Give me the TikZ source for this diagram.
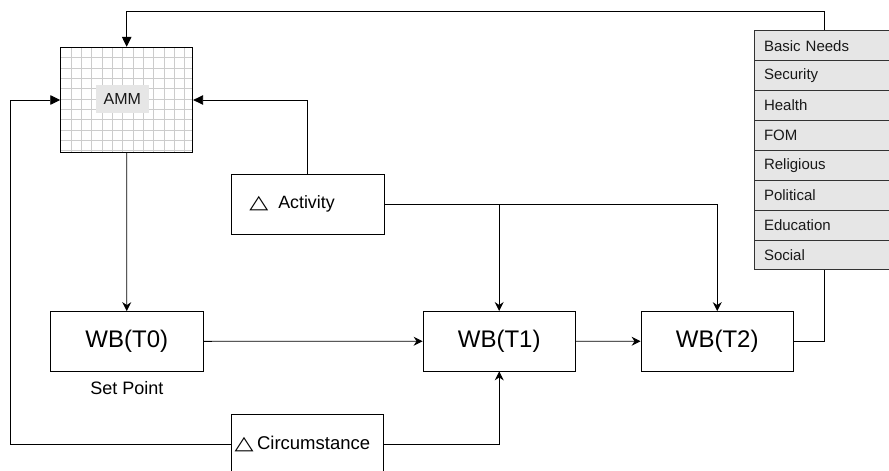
\documentclass[tikz,border=0pt]{standalone}
\usepackage{fontspec}
\usepackage{graphicx}
\setmainfont{Liberation Sans}
\newfontfamily\symfont{DejaVu Sans}
\usetikzlibrary{arrows.meta}

\definecolor{gridgray}{HTML}{CCCCCC}
\definecolor{cellgray}{HTML}{E6E6E6}
\definecolor{edgegray}{HTML}{333333}

% wide, flat delta sign
\newcommand{\deltasign}{{\symfont\fontsize{19}{21}\selectfont\scalebox{1.3}[1.0]{△}}}

\begin{document}
\begin{tikzpicture}[x=1pt,y=-1pt,
  box/.style={draw=black, line width=0.9pt, fill=white, minimum width=152.3pt,
    minimum height=59.5pt, inner sep=0pt},
  wbbox/.style={box, font=\fontsize{24}{28}\selectfont},
  cell/.style={draw=edgegray, line width=0.9pt, fill=cellgray, minimum width=140pt,
    minimum height=29.9pt, inner sep=0pt, text width=120pt, align=left,
    font=\fontsize{15}{18}\selectfont, text=black!90},
  link/.style={draw=black, line width=0.9pt},
  arr/.style={link, -{Stealth[length=9pt, width=9pt, inset=3pt]}},
  arrb/.style={link, -{Triangle[length=10pt, width=9.5pt]}}]

\useasboundingbox (0,0) rectangle (889,471);

% grid fill of the AMM block
\begin{scope}[shift={(60.7,47.3)}]
  \draw[gridgray, line width=0.8pt] (0,0) grid[xstep=10.33pt, ystep=10.33pt] (132,105.4);
\end{scope}
\node[draw=black, line width=0.9pt, minimum width=132pt, minimum height=105.4pt,
  inner sep=0pt] (amm) at (126.7,100) {};
\node[fill=cellgray, minimum width=52.7pt, minimum height=28pt, inner sep=0pt,
  font=\fontsize{16}{19}\selectfont, text=black!90] (ammlabel) at (122.3,99) {AMM};

% activity and circumstance changes
\node[box, font=\fontsize{17.8}{21}\selectfont, text width=117pt, align=left,
  inner xsep=17.6pt] (act) at (307.8,204.2)
  {\deltasign\hspace{10pt}Activity};
\node[box, font=\fontsize{18.5}{22}\selectfont, text width=145.7pt, align=left,
  inner xsep=3.3pt] (circ) at (307.4,444.3)
  {\deltasign\hspace{3.5pt}Circumstance};

% well-being states
\node[wbbox] (wb0) at (126.8,341.3) {WB(T0)};
\node[wbbox] (wb1) at (499.2,341.2) {WB(T1)};
\node[wbbox] (wb2) at (717.2,341.3) {WB(T2)};
\node[font=\fontsize{18}{21}\selectfont] (setpoint) at (126.8,388) {Set Point};

% life domains
\foreach \t [count=\i] in {Basic Needs, Security, Health, FOM, Religious, Political, Education, Social}
  \node[cell] (r\i) at (824,{30.7+29.9*(\i-0.5)}) {\t};

% connectors
\draw[arrb] (r1.north) -- ++(0,-18.4) -| (amm.north);
\draw[link] (wb2.east) -| (r8.south);
\draw[arrb] (act.north) |- (amm.east);
\draw[arr] (act.east) -| (wb2.north);
\draw[arr] (act.east -| wb1.north) -- (wb1.north);
\draw[arr] (amm.south) -- (wb0.north);
\draw[arr] (wb0.east) -- (wb1.west);
\draw[arr] (wb1.east) -- (wb2.west);
\draw[arrb] (circ.west) -- ++(-220.7,0) |- (amm.west);
\draw[arr] (circ.east) -| (wb1.south);
\end{tikzpicture}
\end{document}
